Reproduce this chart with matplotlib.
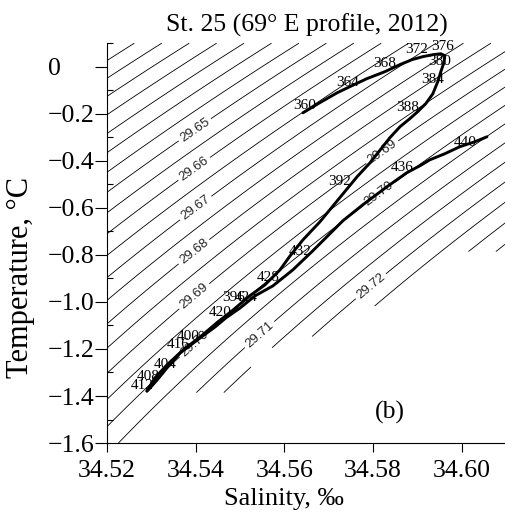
import numpy as np
import matplotlib
matplotlib.use('Agg')
import matplotlib.pyplot as plt

plt.rcParams['font.family'] = 'Liberation Serif'
plt.rcParams['axes.unicode_minus'] = True

# T-S profile, descending part (360 -> 408)
s_down = [34.5642, 34.5680, 34.5719, 34.5752, 34.5786, 34.5827, 34.5861, 34.5888,
          34.5913, 34.5935, 34.5953, 34.5962, 34.5960, 34.5953, 34.5946, 34.5935,
          34.5919, 34.5901, 34.5883, 34.5861, 34.5838, 34.5822, 34.5793, 34.5764,
          34.5725, 34.5680, 34.5642, 34.5613, 34.5590, 34.5556, 34.5522, 34.5482,
          34.5450, 34.5410, 34.5374, 34.5335, 34.5308, 34.5290]
t_down = [-0.196, -0.153, -0.111, -0.081, -0.051, -0.021, 0.009, 0.030,
          0.043, 0.051, 0.055, 0.047, 0.017, -0.021, -0.064, -0.115,
          -0.157, -0.191, -0.221, -0.255, -0.302, -0.340, -0.409, -0.468,
          -0.557, -0.660, -0.736, -0.804, -0.864, -0.928, -0.974, -1.038,
          -1.085, -1.149, -1.200, -1.268, -1.323, -1.379]
# return part (408 -> 440)
s_up = [34.5290, 34.5295, 34.5313, 34.5335, 34.5365, 34.5410, 34.5444, 34.5468,
        34.5500, 34.5534, 34.5574, 34.5619, 34.5664, 34.5698, 34.5732, 34.5777,
        34.5831, 34.5876, 34.5906, 34.5928, 34.5962, 34.5996, 34.6030, 34.6057]
t_up = [-1.379, -1.370, -1.332, -1.281, -1.217, -1.153, -1.106, -1.068,
        -1.026, -0.974, -0.932, -0.864, -0.783, -0.719, -0.655, -0.587,
        -0.511, -0.451, -0.421, -0.396, -0.370, -0.340, -0.319, -0.298]

lab_num = [360, 364, 368, 372, 376, 380, 384, 388, 392, 396, 400,
           404, 408, 412, 416, 420, 424, 428, 432, 436, 440]
lab_s = [34.5646, 34.5743, 34.5827, 34.5899, 34.5958, 34.5951, 34.5935, 34.5879,
         34.5725, 34.5486, 34.5383, 34.5331, 34.5292, 34.5279, 34.5360, 34.5455,
         34.5513, 34.5563, 34.5635, 34.5865, 34.6007]
lab_t = [-0.166, -0.068, 0.013, 0.072, 0.085, 0.021, -0.055, -0.174,
         -0.489, -0.983, -1.149, -1.264, -1.319, -1.357, -1.183, -1.047,
         -0.983, -0.898, -0.787, -0.430, -0.323]

# isopycnals: labelled ones every 0.01, plain ones in between
sig_major = np.round(np.arange(29.60, 29.781, 0.01), 2)
sig_minor = np.round(np.arange(29.605, 29.781, 0.01), 3)
clab_s = [34.5398, 34.5398, 34.5398, 34.5398, 34.5398, 34.5822, 34.5816, 34.5403, 34.5549, 34.5798]
clab_t = [-0.268, -0.438, -0.596, -0.791, -0.979, -0.366, -0.545, -1.191, -1.149, -0.940]
# lower edge of the gridded field
edge_s = [34.5200, 34.5229, 34.5320, 34.5342, 34.5489, 34.5522, 34.5534, 34.5635,
          34.5703, 34.5838, 34.5906, 34.5962, 34.6100]
edge_t = [-1.70, -1.600, -1.438, -1.387, -1.387, -1.311, -1.204, -1.183,
          -1.098, -0.991, -0.872, -0.787, -0.787]

xticks = [34.52, 34.54, 34.56, 34.58, 34.60]
yticks = [-1.6, -1.4, -1.2, -1.0, -0.8, -0.6, -0.4, -0.2, 0]
ylabels = ['\u22121.6', '\u22121.4', '\u22121.2', '\u22121.0', '\u22120.8',
           '\u22120.6', '\u22120.4', '\u22120.2', '0']

fig = plt.figure(figsize=(5.06, 5.14), dpi=100)
ax = fig.add_axes([0.2115, 0.138, 0.7885, 0.778])

S, T = np.meshgrid(np.linspace(34.52, 34.61, 500), np.linspace(-1.6, 0.1, 500))
sig = 29.65 + 0.808*(S - 34.5398) - 0.0665*(T + 0.268) - 0.0079*(T**2 - 0.0718)
sig = np.ma.masked_where(T < np.interp(S, edge_s, edge_t), sig)
ax.contour(S, T, sig, levels=sig_minor, colors='k', linewidths=0.6)
cs = ax.contour(S, T, sig, levels=sig_major, colors='k', linewidths=0.6)
with plt.rc_context({'font.family': 'Liberation Sans'}):
    ax.clabel(cs, manual=list(zip(clab_s, clab_t)), fmt='%.2f', fontsize=9.5,
              inline=True, inline_spacing=3, colors='0.15')

ax.plot(s_down, t_down, color='k', lw=2.1, solid_capstyle='round', zorder=5)
ax.plot(s_up, t_up, color='k', lw=2.1, solid_capstyle='round', zorder=5)
for n, s, t in zip(lab_num, lab_s, lab_t):
    ax.text(s, t, str(n), fontsize=11, ha='center', va='center', zorder=6)

ax.text(34.5838, -1.468, '(b)', fontsize=18.5, ha='center', va='center')

ax.set_xlim(34.52, 34.61)
ax.set_ylim(-1.6, 0.1)
ax.set_xticks(xticks)
ax.set_xticklabels(['%.2f' % x for x in xticks])
ax.set_yticks(yticks)
ax.set_yticklabels(ylabels, ha='left')
ax.set_yticks(np.arange(-1.5, 0.11, 0.2), minor=True)
ax.tick_params(which='major', axis='x', direction='out', length=6.5, width=0.8,
               labelsize=18.5, pad=6)
ax.tick_params(which='major', axis='y', direction='out', length=8.5, width=0.8,
               labelsize=18.5, pad=34)
ax.tick_params(which='minor', axis='y', direction='in', length=4, width=0.8)
ax.spines['top'].set_visible(False)
ax.spines['right'].set_visible(False)

ax.set_title('St. 25 (69\u00b0 E profile, 2012)', fontsize=18.5, pad=8)
ax.set_xlabel('Salinity, \u2030', fontsize=19)
ax.set_ylabel('Temperature, \u00b0C', fontsize=22)
ax.yaxis.set_label_coords(-0.18, 0.415)
ax.xaxis.set_label_coords(0.444, -0.112)

fig.savefig('out.png', dpi=100)
